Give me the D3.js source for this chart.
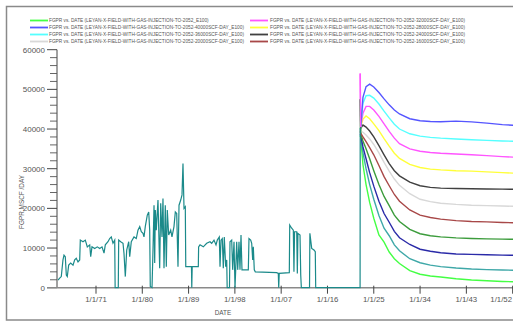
<!DOCTYPE html>
<html>
<head>
<meta charset="utf-8">
<script src="https://cdn.jsdelivr.net/npm/d3@7"></script>
<style>
  html, body { margin: 0; padding: 0; background: #fff; overflow: hidden; }
  svg { display: block; font-family: "Liberation Sans", Arial, sans-serif; }
</style>
</head>
<body>
<svg id="chart" width="513" height="322"></svg>
<script>
// Field gas production rate: history (1963–2022) and injection cases to 2052.

// Historical FGPR, [decimal year, MSCF/DAY]
const history = [
  [1963.61,1900],[1963.94,2400],[1964.25,2800],[1964.58,7000],[1964.78,8200],[1965.03,7800],
  [1965.23,3200],[1965.42,2800],[1965.69,5700],[1966.08,6200],[1966.53,5700],[1966.86,7000],
  [1967.17,7400],[1967.50,6500],[1967.83,7000],[1967.95,12000],[1968.47,11600],[1968.92,12000],
  [1969.31,10300],[1969.78,10800],[1969.97,7800],[1970.22,10300],[1970.75,9900],[1971.25,10300],
  [1971.72,9900],[1972.17,10300],[1972.56,8700],[1972.81,10800],[1973.33,11600],[1973.66,12400],
  [1973.97,12800],[1974.30,11200],[1974.64,12000],[1974.72,0],[1975.33,0],[1975.41,12000],
  [1975.80,11600],[1976.25,11200],[1976.44,8700],[1976.70,2800],[1976.97,9500],[1977.36,11600],
  [1977.55,7800],[1977.86,11600],[1978.39,12800],[1978.83,12400],[1979.16,14500],[1979.50,15400],
  [1979.81,14100],[1980.14,13700],[1980.33,12800],[1980.58,15400],[1980.97,18300],[1981.25,19100],
  [1981.44,14500],[1981.55,300],[1981.89,0],[1982.08,9500],[1982.28,20800],[1982.41,6200],
  [1982.53,19600],[1982.72,14500],[1983.05,22100],[1983.38,4900],[1983.58,21300],[1983.83,12800],
  [1984.02,22500],[1984.22,4900],[1984.47,20800],[1984.67,5300],[1984.86,19600],[1985.13,13300],
  [1985.52,14500],[1985.77,12800],[1986.16,15400],[1986.42,19100],[1986.69,18700],[1986.94,5300],
  [1987.14,20800],[1987.47,22100],[1987.72,23400],[1987.91,31300],[1988.11,20000],[1988.36,20400],
  [1988.45,5300],[1989.56,5300],[1989.62,0],[1989.70,5300],[1990.89,5300],[1990.95,10300],
  [1991.22,10800],[1991.86,10300],[1992.52,11200],[1993.16,11600],[1993.49,11200],[1993.94,12000],
  [1994.33,10800],[1994.58,12000],[1994.97,12800],[1995.11,5300],[1995.30,12000],[1995.55,12400],
  [1995.75,4900],[1995.94,12800],[1996.21,5300],[1996.41,7000],[1996.50,0],[1996.95,0],
  [1997.05,11600],[1997.38,12000],[1997.57,4500],[1997.83,11600],[1998.02,0],[1998.16,4500],
  [1998.35,11600],[1998.55,4500],[1998.80,11600],[1998.99,4500],[1999.19,13300],[1999.38,4500],
  [2000.61,4500],[2000.74,12400],[2001.07,12000],[2001.27,11200],[2001.46,7000],[2001.58,10300],
  [2001.77,4500],[2001.97,4000],[2006.13,3800],[2006.44,3600],[2006.52,0],[2006.62,3600],
  [2008.58,3800],[2008.66,15800],[2009.04,15000],[2009.36,14500],[2009.48,4000],[2009.60,14100],
  [2010.02,14100],[2010.14,3600],[2010.26,13700],[2010.66,13300],[2010.80,3200],[2010.92,0],
  [2012.51,0],[2012.58,13700],[2012.93,9900],[2013.38,9500],[2013.63,9100],[2013.71,0],
  [2022.34,0],[2022.36,40300]
];

// Forecast time steps (decimal years)
const forecastYears = [2022.36, 2022.45, 2022.9, 2023.5, 2024.2, 2025, 2026, 2027, 2028, 2029,
  2030, 2032, 2034, 2036, 2038, 2041, 2044, 2047, 2050, 2053, 2056];

// FGPR for each injection case, MSCF/DAY
const fgprBase  = [38300,38000,31000,26000,21500,17500,13300,11500,9000,7300,6100,4300,3400,2950,2700,2250,1950,1750,1580,1470,1400];
const fgpr4000  = [38500,38200,34000,30000,26000,22300,18200,15000,13100,10800,9300,7300,6300,5700,5300,4950,4700,4550,4450,4400,4350];
const fgpr8000  = [38800,38500,35500,32500,29000,25600,21800,18700,16500,14200,12600,10900,9700,9200,8800,8500,8400,8300,8200,8150,8100];
const fgpr12000 = [47500,38800,37000,35000,32500,29500,26000,23000,20700,18300,16700,14700,13600,13100,12800,12550,12400,12300,12250,12200,12100];
const fgpr16000 = [39400,39000,38000,36800,35300,33500,30800,28000,25700,23500,21800,19600,18300,17700,17300,16900,16700,16600,16450,16350,16250];
const fgpr20000 = [39800,39500,39200,38500,37500,36100,34000,31600,29400,27400,25800,23700,22300,21700,21300,21000,20800,20700,20600,20500,20400];
const fgpr24000 = [40200,40200,41000,40500,39500,38000,35800,33500,31300,29500,28200,26600,25700,25300,25100,25000,24950,24900,24850,24800,24750];
const fgpr28000 = [40500,40500,42500,43300,42600,41300,39600,37600,35700,33900,32600,31100,30300,29900,29700,29500,29400,29200,29000,28850,28700];
const fgpr32000 = [54000,40500,44000,45700,45700,44800,43200,41300,39400,37700,36300,35000,34400,34100,33900,33700,33500,33300,33050,32850,32700];
const fgpr36000 = [40500,40500,46500,48400,48500,47800,46300,44500,42800,41200,40000,38800,38200,37900,37700,37500,37300,37150,37000,36900,36800];
const fgpr40000 = [40500,40500,48000,50700,51300,50600,49200,47600,46100,44800,43800,42600,42100,41900,41850,42000,41800,41500,41100,40900,40700];

const caseNames = ["_E100", "-4000SCF-DAY_E100", "-8000SCF-DAY_E100", "-12000SCF-DAY_E100",
  "-16000SCF-DAY_E100", "-20000SCF-DAY_E100", "-24000SCF-DAY_E100", "-28000SCF-DAY_E100",
  "-32000SCF-DAY_E100", "-36000SCF-DAY_E100", "-40000SCF-DAY_E100"];
const caseValues = [fgprBase, fgpr4000, fgpr8000, fgpr12000, fgpr16000, fgpr20000,
  fgpr24000, fgpr28000, fgpr32000, fgpr36000, fgpr40000];

// Axis ticks
const yTicksMajor = [0, 10000, 20000, 30000, 40000, 50000, 60000];
const xTickYears = [1971, 1980, 1989, 1998, 2007, 2016, 2025, 2034, 2043, 2052];
const xTickLabels = ["1/1/71", "1/1/80", "1/1/89", "1/1/98", "1/1/07", "1/1/16", "1/1/25", "1/1/34", "1/1/43", "1/1/52"];

// Legend entries (index into caseNames), column by column
const legendLeft = [0, 10, 9, 5];
const legendRight = [8, 7, 6, 4];

// Styling
const historyColor = "#1b8a8a";
const caseColors = ["#44ff44", "#3fa8a8", "#2a2aa8", "#3c9c3c", "#a84848", "#d8d8d8",
  "#404040", "#ffff3a", "#ff55ff", "#55ffff", "#5555ff"];

const svg = d3.select("#chart");
const W = 513, H = 322;
const x0 = 57, yZero = 287.7, yTop = 49.7;
const pxPerYear = 5.144;
const xStart = 1971 - (96 - x0) / pxPerYear;

const x = d3.scaleLinear().domain([xStart, 2060]).range([x0, x0 + (2060 - xStart) * pxPerYear]);
const y = d3.scaleLinear().domain([0, 60000]).range([yZero, yTop]);

// Outer frame
svg.append("rect").attr("x", 6.5).attr("y", 6.5).attr("width", 700).attr("height", 313.5)
  .attr("fill", "none").attr("stroke", "#8a8a8a").attr("stroke-width", 1.5);

// Clip for plotting area
svg.append("defs").append("clipPath").attr("id", "plot")
  .append("rect").attr("x", x0).attr("y", 0).attr("width", W - x0).attr("height", yZero + 1);

// Y axis
const yAxis = svg.append("g").attr("transform", `translate(${x0},0)`);
yAxis.append("line").attr("x1", 0).attr("x2", 0).attr("y1", y(60000)).attr("y2", yZero)
  .attr("stroke", "#444").attr("stroke-width", 1);
const minorTicks = d3.range(0, 60001, 2000).filter(v => v % 10000 !== 0);
yAxis.selectAll("line.minor").data(minorTicks).join("line").attr("class", "minor")
  .attr("x1", -7).attr("x2", 0).attr("y1", d => y(d)).attr("y2", d => y(d))
  .attr("stroke", "#555").attr("stroke-width", 0.9);
yAxis.selectAll("line.major").data(yTicksMajor).join("line").attr("class", "major")
  .attr("x1", -10).attr("x2", 0).attr("y1", d => y(d)).attr("y2", d => y(d))
  .attr("stroke", "#444").attr("stroke-width", 1);
yAxis.selectAll("text").data(yTicksMajor).join("text")
  .attr("x", -12).attr("y", d => y(d)).attr("dy", "0.35em").attr("text-anchor", "end")
  .attr("font-size", 8).attr("fill", "#555").text(d => d);

// X axis
svg.append("line").attr("x1", 47).attr("x2", W).attr("y1", yZero).attr("y2", yZero)
  .attr("stroke", "#8a8a8a").attr("stroke-width", 1.6);
const xAxis = svg.append("g");
xAxis.selectAll("line").data(xTickYears).join("line")
  .attr("x1", d => x(d)).attr("x2", d => x(d)).attr("y1", yZero - 2).attr("y2", yZero + 6)
  .attr("stroke", "#444").attr("stroke-width", 1);
xAxis.selectAll("text").data(xTickYears).join("text")
  .attr("x", (d, i) => i === xTickYears.length - 1 ? W - 1 : x(d))
  .attr("text-anchor", (d, i) => i === xTickYears.length - 1 ? "end" : "middle")
  .attr("y", yZero + 14)
  .attr("font-size", 7.8).attr("fill", "#555").text((d, i) => xTickLabels[i]);

// Axis titles
svg.append("text").attr("x", 223).attr("y", 315).attr("text-anchor", "middle")
  .attr("font-size", 6.4).attr("fill", "#555").text("DATE");
svg.append("text").attr("transform", "translate(24,202) rotate(-90)").attr("text-anchor", "middle")
  .attr("font-size", 6.4).attr("fill", "#555").text("FGPR   MSCF /DAY");

// Series
const line = d3.line().x(d => x(d[0])).y(d => y(d[1]));
const plot = svg.append("g").attr("clip-path", "url(#plot)");

caseValues.forEach((vals, i) => {
  const pts = forecastYears.map((t, k) => [t, vals[k]]);
  plot.append("path").datum(pts).attr("d", line).attr("fill", "none")
    .attr("stroke", caseColors[i]).attr("stroke-width", 1.4);
});
// start-up spikes of the 12000 and 32000 cases kept visible on top
[3, 8].forEach(i => {
  plot.append("path").datum(forecastYears.slice(0, 2).map((t, k) => [t, caseValues[i][k]]))
    .attr("d", line).attr("fill", "none").attr("stroke", caseColors[i]).attr("stroke-width", 1.4);
});

plot.append("path").datum(history).attr("d", line).attr("fill", "none")
  .attr("stroke", historyColor).attr("stroke-width", 1.2);

// Legend
const legendText = i => `FGPR  vs.  DATE (LEYAN-X-FIELD-WITH-GAS-INJECTION-TO-2052${caseNames[i]})`;
function drawLegend(entries, sx, tx) {
  const g = svg.append("g");
  entries.forEach((ci, r) => {
    const yy = 20.5 + r * 7;
    g.append("line").attr("x1", sx).attr("x2", sx + 18).attr("y1", yy).attr("y2", yy)
      .attr("stroke", caseColors[ci]).attr("stroke-width", 1.8);
    g.append("text").attr("x", tx).attr("y", yy).attr("dy", "0.35em")
      .attr("font-size", 4.75).attr("fill", "#555").text(legendText(ci));
  });
}
drawLegend(legendLeft, 30, 49);
drawLegend(legendRight, 250, 270);
</script>
</body>
</html>
